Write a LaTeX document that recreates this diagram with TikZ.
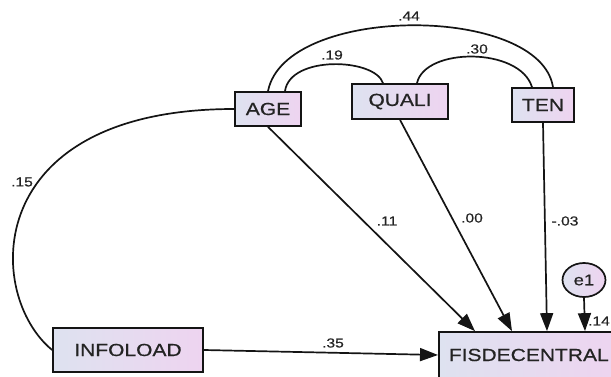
\documentclass[tikz,border=0pt]{standalone}
\usepackage{fontspec}
\setmainfont{Liberation Sans}[FakeStretch=1.2, FakeBold=0.6]
\usetikzlibrary{arrows.meta,shapes.geometric,calc}

\definecolor{boxleft}{RGB}{222,226,240}
\definecolor{boxright}{RGB}{238,212,240}
\definecolor{ink}{RGB}{20,20,20}
\definecolor{txt}{RGB}{35,35,35}

\tikzset{
  varbox/.style={draw=ink, line width=1.7pt, rectangle, inner sep=0pt,
    left color=boxleft, right color=boxright, text=txt,
    font=\fontsize{17.5}{20}\selectfont},
  errnode/.style={draw=ink, line width=1.7pt, ellipse, inner sep=0pt,
    minimum width=43pt, minimum height=34pt,
    left color=boxleft, right color=boxright, text=txt,
    font=\fontsize{15.5}{18}\selectfont},
  coef/.style={text=txt, inner sep=0pt, font=\fontsize{13}{15}\selectfont},
  path/.style={draw=ink, line width=1.7pt, -{Triangle[length=18pt,width=13pt]}},
  covar/.style={draw=ink, line width=1.7pt},
}

\begin{document}
\begin{tikzpicture}[x=1pt,y=-1pt]
  \useasboundingbox (0,0) rectangle (611,377);
  \clip (0,0) rectangle (611,377);

  % observed variables
  \node[varbox, minimum width=66pt, minimum height=34pt] (AGE) at (268,109) {AGE};
  \node[varbox, minimum width=96pt, minimum height=35pt] (QUALI) at (400,101.5) {QUALI};
  \node[varbox, minimum width=62pt, minimum height=34pt] (TEN) at (543,105) {TEN};
  \node[varbox, minimum width=150pt, minimum height=44pt] (INFOLOAD) at (128,350) {INFOLOAD};
  \node[varbox, anchor=west, minimum height=46pt, inner xsep=10pt] (FIS) at (438,355) {FISDECENTRAL};

  % residual
  \node[errnode] (e1) at (584,280) {e1};

  % arrow ends on the top edge of the outcome box
  \coordinate (inAGE) at ($(FIS.north west)+(37,0)$);
  \coordinate (inQUALI) at ($(FIS.north west)+(74,0)$);
  \coordinate (inTEN) at ($(FIS.north west)+(109,0)$);
  \coordinate (inE) at ($(FIS.north west)+(147,0)$);

  % regression paths
  \draw[path] (AGE.south) -- (inAGE);
  \draw[path] (QUALI.south) -- (inQUALI);
  \draw[path] (TEN.south) -- (inTEN);
  \draw[path] (e1.south) -- (inE);
  \draw[path] (INFOLOAD.east) -- (FIS.west);

  % covariances
  \coordinate (ageA) at (AGE.north);
  \coordinate (ageB) at ($(AGE.north)+(17,0)$);
  \coordinate (qualA) at ($(QUALI.north)+(-17,0)$);
  \coordinate (qualB) at ($(QUALI.north)+(17,0)$);
  \coordinate (tenA) at ($(TEN.north)+(-11,0)$);
  \coordinate (tenB) at ($(TEN.north)+(10,0)$);

  \draw[covar] (ageA) .. controls (285,4) and (540,4) .. (tenB);
  \draw[covar] (ageB) .. controls (290,55) and (375,58) .. (qualA);
  \draw[covar] (qualB) .. controls (425,47) and (520,47) .. (tenA);
  \draw[covar] (AGE.west) .. controls (-20,109) and (-15,295) .. (INFOLOAD.west);

  % coefficients
  \node[coef] (c44) at (409,16) {.44};
  \node[coef] (c19) at (332,55) {.19};
  \node[coef] (c30) at (477,49) {.30};
  \node[coef] (c15) at (22,182) {.15};
  \node[coef] (c11) at (387,221) {.11};
  \node[coef] (c00) at (472,218) {.00};
  \node[coef] (c03) at (565,221) {-.03};
  \node[coef] (c14) at (599,321) {.14};
  \node[coef] (c35) at (333,343) {.35};
\end{tikzpicture}
\end{document}
